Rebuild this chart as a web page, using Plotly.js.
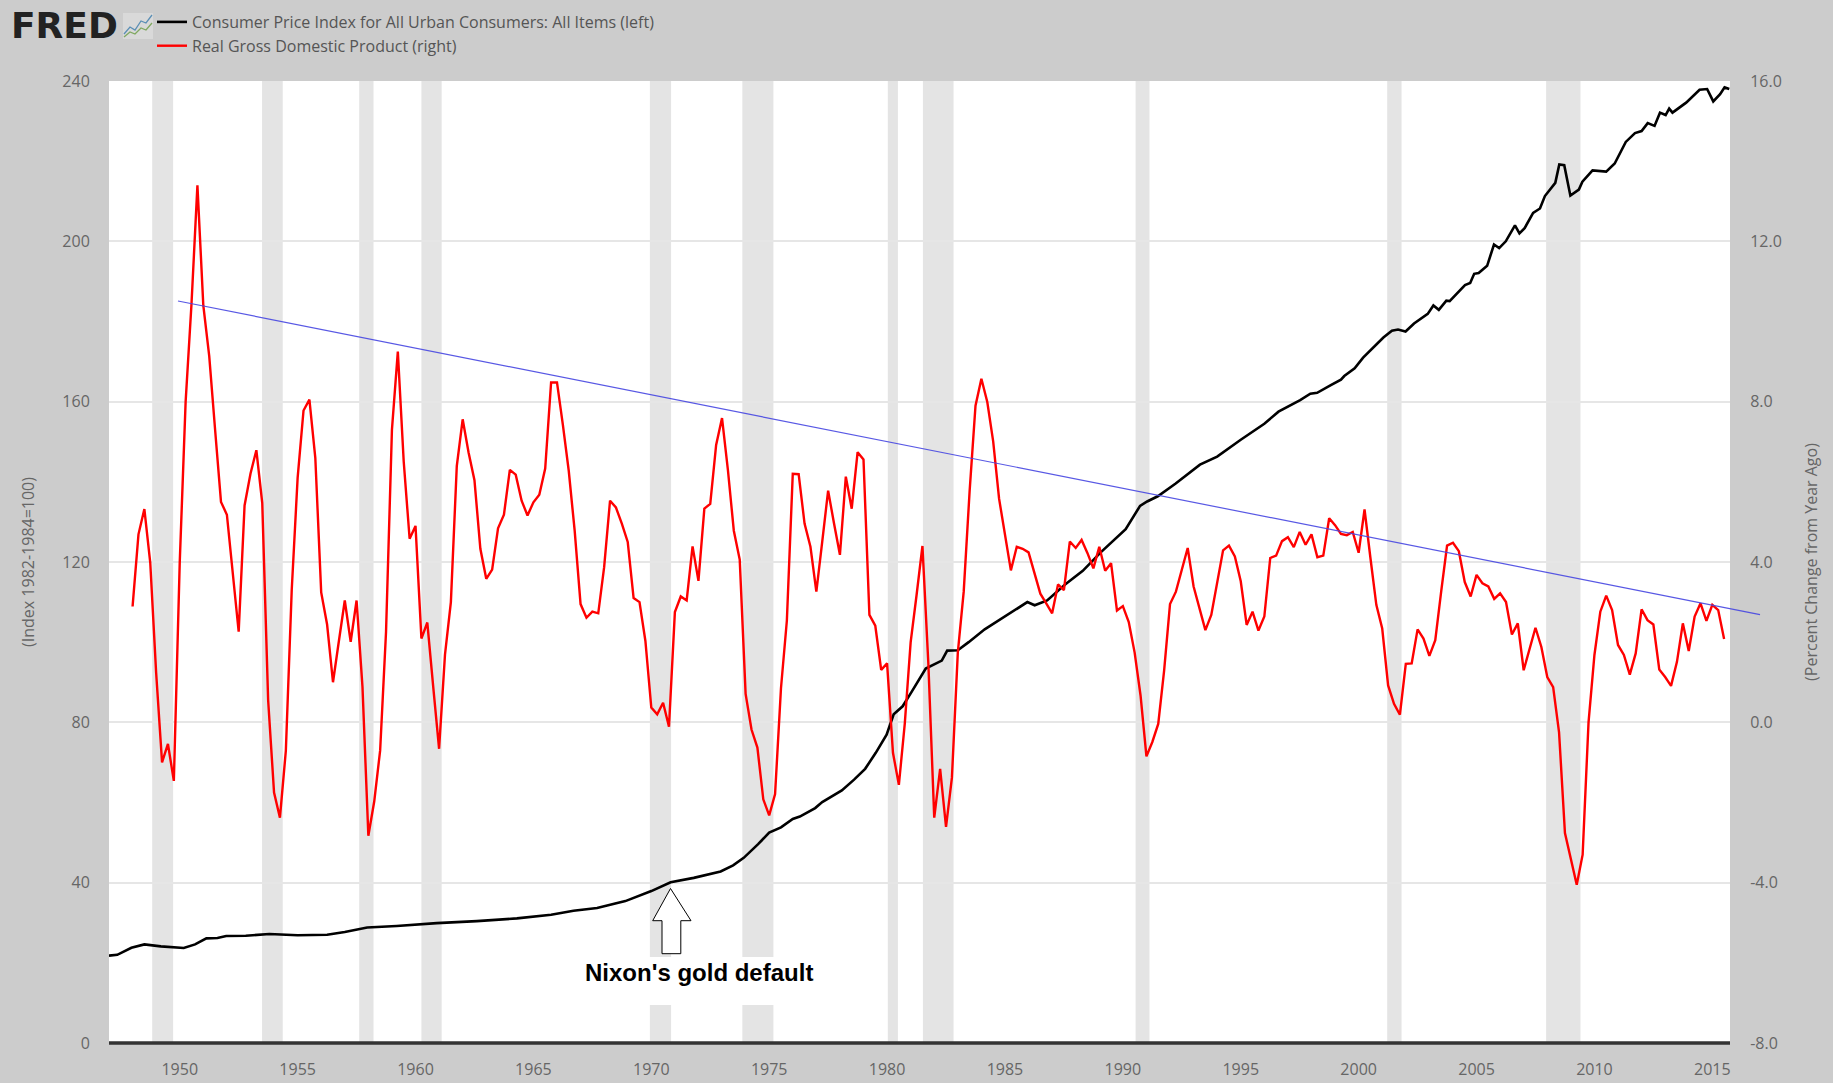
<!DOCTYPE html>
<html>
<head>
<meta charset="utf-8">
<script src="https://cdn.plot.ly/plotly-3.0.0.min.js"></script>
<style>html,body{margin:0;padding:0;background:#ccc}#chart{width:1833px;height:1083px}</style>
</head>
<body>
<div id="chart"></div>
<script>
// Real GDP, percent change from year ago: quarterly from 1948 Q1 (right axis)
const gdpStartYear = 1948;
const gdpValues = [
2.89,4.69,5.32,3.98, 1.23,-1.0,-0.54,-1.46, 3.98,8.0,10.45,13.4, 10.4,9.14,7.3,5.5,
5.18,3.64,2.26,5.41, 6.2,6.79,5.47,0.55, -1.75,-2.38,-0.71,3.3, 6.1,7.78,8.05,6.6,
3.24,2.44,1.0,2.03, 3.04,2.01,3.04,0.89, -2.83,-1.97,-0.7,2.26, 7.3,9.25,6.5,4.58,
4.9,2.09,2.49,0.89, -0.66,1.69,3.0,6.39, 7.56,6.73,6.04,4.33, 3.58,3.81,4.84,5.18,
6.3,6.18,5.53,5.16, 5.49,5.68,6.33,8.48, 8.48,7.42,6.27,4.78, 2.95,2.61,2.76,2.72,
3.87,5.53,5.36,4.96, 4.5,3.1,3.0,2.03, 0.37,0.2,0.49,-0.11, 2.75,3.14,3.04,4.39,
3.53,5.33,5.45,6.92, 7.59,6.29,4.78,4.06, 0.71,-0.18,-0.63,-1.92, -2.32,-1.79,0.85,2.54,
6.2,6.19,4.96,4.38, 3.26,4.51,5.78,4.96, 4.18,6.13,5.33,6.74, 6.56,2.68,2.41,1.31,
1.47,-0.76,-1.56,-0.04, 2.0,3.17,4.4,1.47, -2.38,-1.16,-2.61,-1.38, 1.74,3.26,5.76,7.9,
8.57,7.99,7.01,5.58, 4.69,3.79,4.38,4.33, 4.24,3.71,3.21,2.97, 2.72,3.44,3.3,4.51,
4.35,4.55,4.22,3.84, 4.38,3.78,3.97,2.79, 2.9,2.5,1.74,0.67, -0.85,-0.49,-0.04,1.29,
2.95,3.26,3.79,4.35, 3.39,2.85,2.3,2.68, 3.52,4.29,4.41,4.14, 3.52,2.43,2.76,2.29,
2.64,4.1,4.16,4.52, 4.62,4.37,4.75,4.43, 4.69,4.12,4.16,5.09, 4.92,4.7,4.67,4.75,
4.23,5.31,4.1,2.93, 2.34,0.92,0.46,0.19, 1.46,1.47,2.32,2.09, 1.66,2.05,3.26,4.41,
4.48,4.27,3.5,3.14, 3.68,3.47,3.39,3.08, 3.22,3.0,2.19,2.47, 1.3,1.84,2.36,1.88,
1.13,0.88,-0.25,-2.76, -3.38,-4.05,-3.3,0.0, 1.68,2.76,3.16,2.8, 1.93,1.68,1.19,1.72,
2.82,2.55,2.44,1.32, 1.13,0.91,1.51,2.47, 1.78,2.64,2.97,2.53, 2.93,2.8,2.08
];
const gdpYears = gdpValues.map((_, i) => gdpStartYear + i / 4);

// CPI, index 1982-84=100 (left axis)
const cpiYears = [
1947.0,1947.35,1947.95,1948.5,1949.2,1950.17,1950.65,1951.13,1951.6,1951.97,1952.8,1953.8,1955.0,1956.25,1957.0,1957.95,
1959.2,1960.9,1962.6,1964.3,1965.75,1966.7,1967.7,1968.9,1970.0,1970.82,1971.8,1972.94,1973.47,1973.92,1974.53,1975.0,
1975.5,1976.0,1976.3,1976.95,1977.25,1978.08,1978.6,1979.07,1979.52,1979.98,1980.28,1980.66,1981.04,1981.64,1982.32,1982.55,
1983.0,1983.46,1984.14,1985.12,1985.95,1986.26,1986.79,1987.55,1988.3,1989.06,1989.5,1990.12,1990.73,1991.03,1991.48,1992.24,
1993.27,1994.0,1995.0,1996.0,1996.6,1997.52,1997.95,1998.24,1998.82,1999.25,1999.39,1999.83,2000.19,2000.48,2001.05,2001.41,
2001.67,2001.99,2002.35,2002.93,2003.17,2003.4,2003.72,2003.86,2004.51,2004.73,2004.9,2005.09,2005.45,2005.74,2005.96,2006.24,
2006.63,2006.82,2007.04,2007.4,2007.69,2007.9,2008.34,2008.51,2008.72,2008.98,2009.34,2009.49,2009.92,2010.5,2010.86,2011.33,
2011.72,2012.0,2012.26,2012.55,2012.78,2013.02,2013.17,2013.31,2013.89,2014.46,2014.78,2015.04,2015.33,2015.52,2015.72
];
const cpiValues = [
21.8,22.0,23.75,24.6,24.1,23.7,24.6,26.1,26.2,26.7,26.75,27.2,26.9,27.0,27.7,28.8,
29.2,29.9,30.4,31.1,32.0,33.0,33.7,35.4,37.9,40.1,41.2,42.8,44.3,46.2,49.6,52.5,
53.8,55.9,56.5,58.6,60.1,63.0,65.7,68.4,72.4,76.9,82.0,84.0,87.6,93.4,95.4,97.9,
98.0,100.0,103.2,106.8,110.0,109.2,110.4,114.4,117.8,122.4,124.9,128.2,134.0,135.1,136.4,139.6,
144.3,146.3,150.5,154.5,157.5,160.4,162.0,162.2,164.1,165.5,166.4,168.3,171.0,172.6,176.0,177.7,
178.0,177.5,179.5,181.9,184.0,182.9,185.2,185.1,189.1,189.6,191.9,192.1,193.9,199.2,198.3,200.0,
204.0,202.0,203.3,207.1,208.2,211.3,214.6,219.2,219.0,211.4,212.9,214.9,217.7,217.4,219.4,224.8,
227.0,227.5,229.5,228.8,232.1,231.5,233.1,232.1,234.6,237.8,238.0,234.9,236.7,238.4,238.0
];

// Shaded recessions, decimal years
const recessionStart = [1948.83,1953.49,1957.61,1960.25,1969.94,1973.86,1980.03,1981.52,1990.54,2001.21,2007.95];
const recessionEnd   = [1949.72,1954.37,1958.22,1961.11,1970.84,1975.18,1980.46,1982.82,1991.13,2001.82,2009.41];

const xTicks = [1950,1955,1960,1965,1970,1975,1980,1985,1990,1995,2000,2005,2010,2015];
const leftTicks = [0,40,80,120,160,200,240];
const rightTicks = [-8,-4,0,4,8,12,16];
const rightTickLabels = ['-8.0','-4.0','0.0','4.0','8.0','12.0','16.0'];

const W = 1833, H = 1083;
const plot = {l:109, r:1730, t:81, b:1043};
const px = x => (x - plot.l) / (plot.r - plot.l);
const py = y => (plot.b - y) / (plot.b - plot.t);
const pathOf = pts => 'M' + pts.map(p => px(p[0]) + ',' + py(p[1])).join('L') + 'Z';
const openPath = pts => 'M' + pts.map(p => px(p[0]) + ',' + py(p[1])).join('L');

const tickFont = {family:'"Open Sans", sans-serif', size:16, color:'#666666'};
const axisTitleFont = {family:'"Open Sans", sans-serif', size:16, color:'#666666'};

const traces = [
  {name:'Consumer Price Index for All Urban Consumers: All Items (left)', x:cpiYears, y:cpiValues,
   type:'scatter', mode:'lines', yaxis:'y', line:{color:'#000000', width:2.6}, hoverinfo:'x+y'},
  {name:'Real Gross Domestic Product (right)', x:gdpYears, y:gdpValues,
   type:'scatter', mode:'lines', yaxis:'y2', line:{color:'#ff0000', width:2.4}, hoverinfo:'x+y'}
];

const shapes = recessionStart.map((s, i) => ({
  type:'rect', xref:'x', yref:'paper', x0:s, x1:recessionEnd[i], y0:0, y1:1,
  fillcolor:'rgba(0,0,0,0.105)', line:{width:0}, layer:'below'
}));
// White patch behind the note
shapes.push({type:'rect', xref:'paper', yref:'paper', x0:px(560), x1:px(830), y0:py(1005), y1:py(957),
  fillcolor:'#ffffff', line:{width:0}, layer:'below'});
// Baseline at zero
shapes.push({type:'line', xref:'paper', yref:'paper', x0:0, x1:1, y0:0, y1:0,
  line:{color:'#333333', width:3.5}, layer:'above'});
// Hand-drawn trend line, running past the plot area
shapes.push({type:'line', xref:'paper', yref:'paper', x0:px(178), y0:py(301), x1:px(1760), y1:py(614.6),
  line:{color:'rgba(70,70,225,0.9)', width:1.2}, layer:'above'});
// Outline arrow pointing at 1971
shapes.push({type:'path', xref:'paper', yref:'paper',
  path:pathOf([[670.5,888.5],[691,920.7],[680.8,920.7],[680.8,953.7],[662,953.7],[662,920.7],[652.7,920.7]]),
  fillcolor:'#ffffff', line:{color:'#000000', width:1}, layer:'above'});
// FRED icon
shapes.push({type:'rect', xref:'paper', yref:'paper', x0:px(123), x1:px(153), y0:py(39), y1:py(13),
  fillcolor:'#d9d9d9', line:{width:0}, layer:'above'});
shapes.push({type:'path', xref:'paper', yref:'paper',
  path:openPath([[124,34],[130,27],[135,30],[141,21],[146,23],[152,15]]),
  line:{color:'#5b8fb5', width:1.3}, layer:'above'});
shapes.push({type:'path', xref:'paper', yref:'paper',
  path:openPath([[124,37],[130,32],[135,34],[141,28],[146,30],[152,23]]),
  line:{color:'#7fa860', width:1.3}, layer:'above'});

const layout = {
  width:W, height:H,
  paper_bgcolor:'#cccccc', plot_bgcolor:'#ffffff',
  margin:{l:plot.l, r:W-plot.r, t:plot.t, b:H-plot.b, pad:0, autoexpand:false},
  showlegend:true,
  legend:{x:px(152), y:py(5), xanchor:'left', yanchor:'top', bgcolor:'rgba(0,0,0,0)',
    font:{family:'"Open Sans", sans-serif', size:16, color:'#555555'}, itemclick:false, itemdoubleclick:false},
  xaxis:{type:'linear', range:[1947.0,2015.75], tickmode:'array', tickvals:xTicks, ticktext:xTicks.map(String),
    showgrid:false, zeroline:false, showline:false,
    ticks:'outside', ticklen:12, tickcolor:'#cccccc', tickwidth:1, tickfont:tickFont},
  yaxis:{range:[0,240], tickmode:'array', tickvals:leftTicks, ticktext:leftTicks.map(String),
    gridcolor:'#e6e6e6', gridwidth:2, zeroline:false, showline:false,
    ticks:'outside', ticklen:15, tickcolor:'#cccccc', tickfont:tickFont,
    title:{text:'(Index 1982-1984=100)', font:axisTitleFont, standoff:23}},
  yaxis2:{range:[-8,16], overlaying:'y', side:'right', tickmode:'array', tickvals:rightTicks, ticktext:rightTickLabels,
    showgrid:false, zeroline:false, showline:false,
    ticks:'outside', ticklen:16, tickcolor:'#cccccc', tickfont:tickFont,
    title:{text:'(Percent Change from Year Ago)', font:axisTitleFont, standoff:24}},
  shapes:shapes,
  annotations:[
    {text:"<b>Nixon's gold default</b>", xref:'paper', yref:'paper', x:px(698.5), y:py(972.5), xanchor:'center', yanchor:'middle',
     showarrow:false, font:{family:'"Liberation Sans", Arial, sans-serif', size:24, color:'#000000'}},
    {text:'<b>FRED</b>', xref:'paper', yref:'paper', x:px(9), y:py(25), xanchor:'left', yanchor:'middle',
     showarrow:false, font:{family:'"DejaVu Sans", sans-serif', size:36, color:'#222222'}}
  ]
};

Plotly.newPlot('chart', traces, layout, {displayModeBar:false, responsive:false});
</script>
</body>
</html>
